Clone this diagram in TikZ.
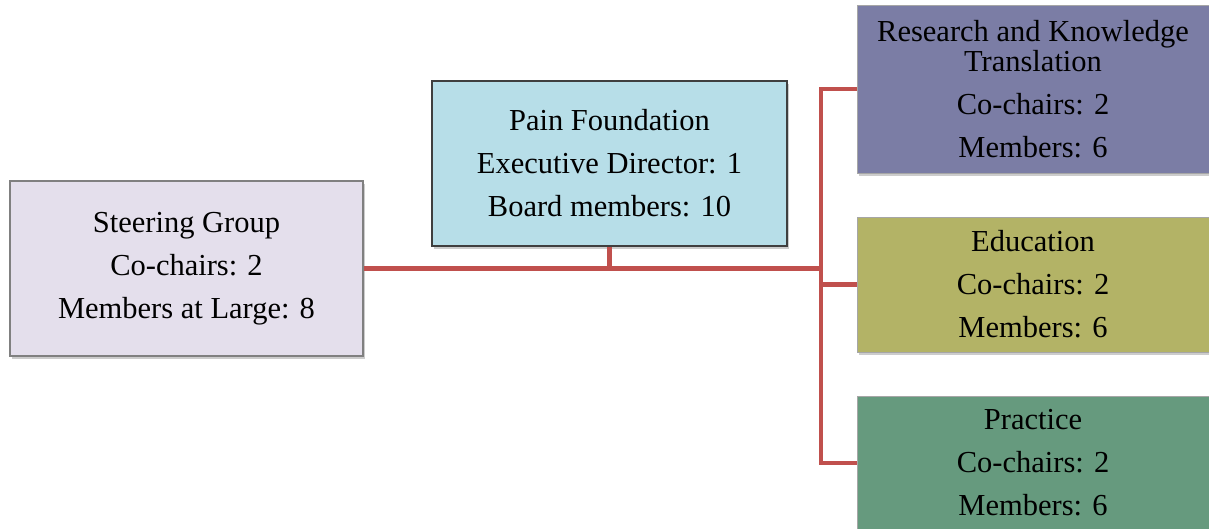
\documentclass[tikz,border=0pt]{standalone}
\usepackage{fontspec}
\setmainfont{Liberation Serif}
\usetikzlibrary{shadows}
\definecolor{linered}{HTML}{C0504D}
\definecolor{steerfill}{HTML}{E4DFEC}
\definecolor{steerdraw}{HTML}{808080}
\definecolor{painfill}{HTML}{B7DEE8}
\definecolor{paindraw}{HTML}{3F3F3F}
\definecolor{resfill}{HTML}{7B7DA5}
\definecolor{edufill}{HTML}{B3B366}
\definecolor{pracfill}{HTML}{669A7E}
\definecolor{lightdraw}{HTML}{A6A6A6}
\begin{document}
\begin{tikzpicture}[x=1pt,y=-1pt,
  box/.style={rectangle, inner sep=0pt, align=center,
    font=\fontsize{30.5}{43}\selectfont,
    drop shadow={shadow xshift=2pt,shadow yshift=-3pt,opacity=0.4}},
  conn/.style={draw=linered, line width=4.6pt, line join=miter}]
\useasboundingbox (0,0) rectangle (1209,529);
\coordinate (tx) at (821,0);

\node[box, fill=steerfill, draw=steerdraw, line width=1.5pt,
  minimum width=353pt, minimum height=175pt] (sg) at (186.5,268.5)
  {Steering Group\\Co-chairs: 2\\Members at Large: 8};
\node[box, fill=painfill, draw=paindraw, line width=2pt,
  minimum width=355pt, minimum height=165pt] (pf) at (609.5,163.5)
  {Pain Foundation\\Executive Director: 1\\Board members: 10};
\node[box, fill=resfill, draw=lightdraw, line width=0.8pt,
  minimum width=352pt, minimum height=168pt] (rk) at (1033,89)
  {Research and Knowledge\\[-13pt]Translation\\Co-chairs: 2\\Members: 6};
\node[box, fill=edufill, draw=lightdraw, line width=0.8pt,
  minimum width=352pt, minimum height=135pt] (ed) at (1033,284.5)
  {Education\\Co-chairs: 2\\Members: 6};
\node[box, fill=pracfill, draw=lightdraw, line width=0.8pt,
  minimum width=352pt, minimum height=134pt] (pr) at (1033,463)
  {Practice\\Co-chairs: 2\\Members: 6};

\draw[conn] (sg.east) -- (sg.east -| tx);
\draw[conn] (pf.south) -- (pf.south |- sg.east);
\draw[conn] (rk.west) -- (rk.west -| tx) -- (pr.west -| tx) -- (pr.west);
\draw[conn] (ed.west) -- (ed.west -| tx);
\end{tikzpicture}
\end{document}
